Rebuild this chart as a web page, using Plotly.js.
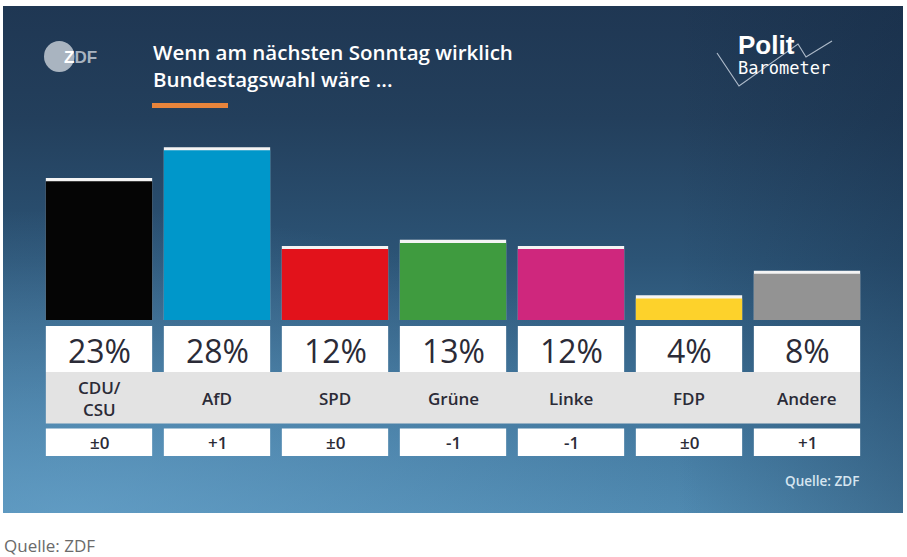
<!DOCTYPE html>
<html>
<head>
<meta charset="utf-8">
<script src="https://cdn.plot.ly/plotly-3.0.1.min.js"></script>
<style>
  html, body { margin:0; padding:0; background:#ffffff; }
  #wrap { position:relative; width:907px; height:557px; }
  #bg { position:absolute; left:3px; top:6px; width:900px; height:507px;
    background:
      radial-gradient(ellipse 70% 60% at 8% 100%, rgba(110,170,210,0.55), rgba(110,170,210,0) 100%),
      linear-gradient(to right, rgba(15,35,60,0) 75%, rgba(15,35,60,0.28) 100%),
      linear-gradient(to bottom, #1f3753 0%, #233f5c 22%, #2c5476 50%, #3f7399 78%, #4f89b0 100%);
  }
  #chart { position:absolute; left:0; top:0; width:907px; height:557px; }
</style>
</head>
<body>
<div id="wrap">
  <div id="bg"></div>
  <div id="chart"></div>
</div>
<script>
// ---- data ----
const parties = ["CDU/CSU", "AfD", "SPD", "Grüne", "Linke", "FDP", "Andere"];
const partyLabels = ["CDU/<br>CSU", "AfD", "SPD", "Grüne", "Linke", "FDP", "Andere"];
const values = [23, 28, 12, 13, 12, 4, 8];
const changes = ["±0", "+1", "±0", "-1", "-1", "±0", "+1"];
const colors = ["#050505", "#0097ca", "#e2121b", "#3f9b3f", "#cf277d", "#fdd22b", "#939393"];

// ---- geometry helpers (pixel -> paper) ----
const W = 907, H = 557;
const mL = 40, mR = 41, mT = 140, mB = 237;
const plotW = W - mL - mR, plotH = H - mT - mB;
const PX = p => (p - mL) / plotW;
const PY = p => (H - mB - p) / plotH;
const CAP = 0.5;      // white top cap thickness (in % units)
const HALF = 0.4505;  // half bar width in category units

const textColor = "#2b2b37";
const font = "Open Sans, Noto Sans, sans-serif";

const traces = [
  {
    type: "bar", x: parties, y: values,
    marker: { color: "#f4f4f4", line: { width: 0 } },
    hoverinfo: "skip"
  },
  {
    type: "bar", x: parties, y: values.map(v => v - CAP),
    marker: { color: colors, line: { width: 0 } },
    hoverinfo: "skip"
  }
];

const shapes = [];
const annotations = [];

function ann(o) {
  annotations.push(Object.assign({ showarrow: false, yanchor: "middle" }, o));
}

// grey label band
shapes.push({ type: "rect", xref: "x", yref: "paper", x0: -HALF, x1: parties.length - 1 + HALF,
  y0: PY(423.5), y1: PY(372), fillcolor: "#e3e3e3", line: { width: 0 }, layer: "below" });

parties.forEach((p, i) => {
  shapes.push({ type: "rect", xref: "x", yref: "paper", x0: i - HALF, x1: i + HALF,
    y0: PY(372), y1: PY(326), fillcolor: "#ffffff", line: { width: 0 }, layer: "below" });
  shapes.push({ type: "rect", xref: "x", yref: "paper", x0: i - HALF, x1: i + HALF,
    y0: PY(456), y1: PY(428.5), fillcolor: "#ffffff", line: { width: 0 }, layer: "below" });

  ann({ x: p, xref: "x", xanchor: "center", y: PY(350), yref: "paper", text: values[i] + "%",
    font: { family: font, size: 32, color: textColor, weight: 500 } });
  ann({ x: p, xref: "x", xanchor: "center", y: PY(398), yref: "paper", text: partyLabels[i],
    font: { family: font, size: 17, color: textColor, weight: 600 } });
  ann({ x: p, xref: "x", xanchor: "center", y: PY(442.5), yref: "paper", text: changes[i],
    font: { family: font, size: 17, color: textColor, weight: 600 } });
});

// header: title
ann({ x: PX(151), y: PY(66), xref: "paper", yref: "paper", xanchor: "left", align: "left",
  text: "Wenn am nächsten Sonntag wirklich<br>Bundestagswahl wäre ...",
  font: { family: font, size: 20.5, color: "#ffffff", weight: 600 } });
shapes.push({ type: "rect", xref: "paper", yref: "paper", x0: PX(152), x1: PX(228),
  y0: PY(108), y1: PY(103), fillcolor: "#e8843b", line: { width: 0 } });

// ZDF logo
shapes.push({ type: "circle", xref: "paper", yref: "paper", x0: PX(44), x1: PX(74.5),
  y0: PY(72), y1: PY(41), fillcolor: "#a9b4c0", line: { width: 0 } });
ann({ x: PX(62), y: PY(57), xref: "paper", yref: "paper", xanchor: "left",
  text: "Z<span style='color:#a9b4c0'>DF</span>",
  font: { family: "Liberation Sans, Arial, sans-serif", size: 17, color: "#ffffff", weight: 700 } });

// Politbarometer logo
shapes.push({ type: "path", xref: "paper", yref: "paper",
  path: "M" + PX(717) + "," + PY(53) + " L" + PX(739) + "," + PY(86) + " L" + PX(798) + "," + PY(44) +
        " L" + PX(806) + "," + PY(57) + " L" + PX(832) + "," + PY(41),
  line: { color: "rgba(220,230,240,0.75)", width: 1.2 } });
ann({ x: PX(736), y: PY(45), xref: "paper", yref: "paper", xanchor: "left",
  text: "Polit",
  font: { family: "Liberation Sans, Arial, sans-serif", size: 26, color: "#ffffff", weight: 700 } });
ann({ x: PX(736), y: PY(68), xref: "paper", yref: "paper", xanchor: "left",
  text: "Barometer",
  font: { family: "DejaVu Sans Mono, monospace", size: 17, color: "#ffffff" } });

// source inside panel
ann({ x: PX(861), y: PY(481), xref: "paper", yref: "paper", xanchor: "right",
  text: "Quelle: ZDF",
  font: { family: font, size: 13.5, color: "#d6e5f0", weight: 600 } });
// source below panel
ann({ x: PX(2), y: PY(545), xref: "paper", yref: "paper", xanchor: "left",
  text: "Quelle: ZDF",
  font: { family: font, size: 17, color: "#6a6a6a" } });

const layout = {
  width: W, height: H,
  margin: { l: mL, r: mR, t: mT, b: mB, pad: 0 },
  paper_bgcolor: "rgba(0,0,0,0)",
  plot_bgcolor: "rgba(0,0,0,0)",
  barmode: "overlay",
  bargap: 0.099,
  showlegend: false,
  xaxis: { type: "category", range: [-0.5, parties.length - 0.5], showticklabels: false,
    showgrid: false, zeroline: false, showline: false, ticks: "", fixedrange: true },
  yaxis: { range: [0, plotH / 6.17], showticklabels: false, showgrid: false,
    zeroline: false, showline: false, ticks: "", fixedrange: true },
  shapes: shapes,
  annotations: annotations
};

Plotly.newPlot("chart", traces, layout, { displayModeBar: false, staticPlot: true });
</script>
</body>
</html>
